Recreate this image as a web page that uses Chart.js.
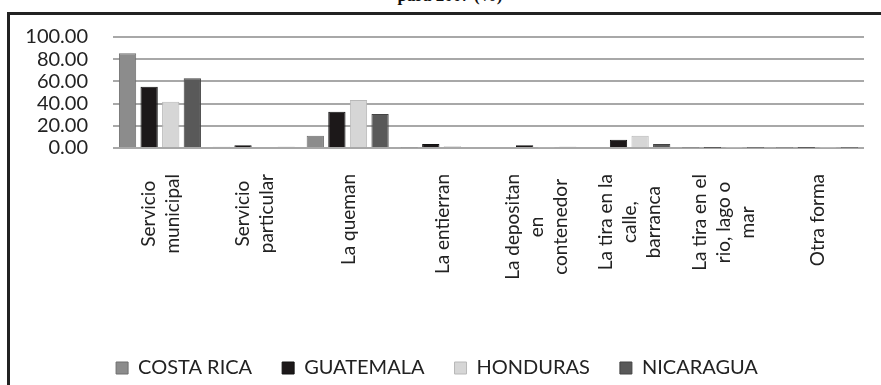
<!DOCTYPE html>
<html>
<head>
<meta charset="utf-8">
<script src="https://cdn.jsdelivr.net/npm/chart.js@4.4.1/dist/chart.umd.min.js"></script>
<style>
  html, body { margin: 0; padding: 0; background: #fff; overflow: hidden; width: 881px; height: 385px; }
  #titulo { position: absolute; left: 0; width: 900px; top: -13px; text-align: center;
            font: bold 17px "Liberation Serif", serif; line-height: 17px; color: #111; }
  #marco { position: absolute; left: 7px; top: 12px; width: 900px; height: 400px;
           border-left: 3px solid #222; border-top: 3px solid #222; }
  #caja { position: absolute; left: 10px; top: 15px; width: 871px; height: 370px; }
</style>
</head>
<body>
<div id="titulo">para 2007 (%)</div>
<div id="marco"></div>
<div id="caja"><canvas id="grafico"></canvas></div>
<script>
// categorías (eje X)
const categorias = [
  ['Servicio', 'municipal'],
  ['Servicio', 'particular'],
  'La queman',
  'La entierran',
  ['La depositan', 'en', 'contenedor'],
  ['La tira en la', 'calle,', 'barranca'],
  ['La tira en el', 'rio, lago o', 'mar'],
  'Otra forma'
];

// valores por país (%)
const costaRica = [85.3, 1.2, 11.0, 0.4, 0.8, 1.0, 0.3, 0.3];
const guatemala = [55.2, 2.5, 32.7, 3.6, 2.5, 7.4, 0.3, 0.3];
const honduras  = [41.7, 1.0, 43.2, 1.5, 0.4, 11.0, 0.3, 0.3];
const nicaragua = [62.8, 1.2, 30.6, 1.0, 1.2, 3.5, 0.3, 0.3];

// marcas del eje Y
const marcasY = [0, 20, 40, 60, 80, 100];

const fuente = 'Lato, "Open Sans", sans-serif';
const tamEtiqueta = 19;
const interlineado = 24;

// las etiquetas de varias líneas quedan centradas en su categoría,
// y cada línea centrada respecto a la más larga
const centrarEtiquetas = {
  id: 'centrarEtiquetas',
  beforeDraw(chart) {
    const s = chart.scales.x;
    const c = chart.ctx;
    s._labelItems = null;
    s.getLabelItems().forEach(it => {
      const lineas = Array.isArray(it.label) ? it.label : [it.label];
      c.save();
      c.font = it.font.string;
      const ancho = Math.max(...lineas.map(l => c.measureText(l).width));
      c.restore();
      it.options.translation[0] += 1 - (lineas.length - 1) * interlineado / 2;
      it.options.translation[1] += ancho / 2;
      it.options.textAlign = 'center';
    });
  }
};

const ctx = document.getElementById('grafico').getContext('2d');
new Chart(ctx, {
  type: 'bar',
  data: {
    labels: categorias,
    datasets: [
      { label: 'COSTA RICA', data: costaRica, backgroundColor: '#8c8c8c', borderColor: '#6e6e6e', borderWidth: 1 },
      { label: 'GUATEMALA', data: guatemala, backgroundColor: '#1c1819', borderColor: '#111', borderWidth: 1 },
      { label: 'HONDURAS', data: honduras, backgroundColor: '#d6d6d6', borderColor: '#b8b8b8', borderWidth: 1 },
      { label: 'NICARAGUA', data: nicaragua, backgroundColor: '#595959', borderColor: '#444', borderWidth: 1 }
    ]
  },
  plugins: [centrarEtiquetas],
  options: {
    responsive: true,
    maintainAspectRatio: false,
    animation: false,
    layout: { padding: { top: 22, right: 17, bottom: -3, left: 0 } },
    datasets: { bar: { categoryPercentage: 0.92, barPercentage: 0.8 } },
    plugins: {
      tooltip: { enabled: false },
      legend: {
        position: 'bottom',
        labels: {
          boxWidth: 12, boxHeight: 12, padding: 30,
          color: '#222',
          font: { family: fuente, size: 20 }
        }
      }
    },
    scales: {
      x: {
        grid: { display: false, drawTicks: false },
        border: { display: false },
        ticks: {
          minRotation: 90, maxRotation: 90, padding: 26, autoSkip: false,
          color: '#222',
          font: { family: fuente, size: tamEtiqueta, lineHeight: interlineado / tamEtiqueta }
        },
        afterFit: s => { s.height = 180; }
      },
      y: {
        min: 0, max: 100,
        afterBuildTicks: s => { s.ticks = marcasY.map(v => ({ value: v })); },
        grid: { color: '#a8a8a8', lineWidth: 2, drawTicks: true, tickLength: 25, tickColor: 'rgba(0,0,0,0)' },
        border: { display: false },
        ticks: {
          padding: 0, autoSkip: false,
          color: '#222',
          font: { family: fuente, size: 20 },
          callback: v => v.toFixed(2)
        },
        afterFit: s => { s.width = 103; }
      }
    }
  }
});
</script>
</body>
</html>
